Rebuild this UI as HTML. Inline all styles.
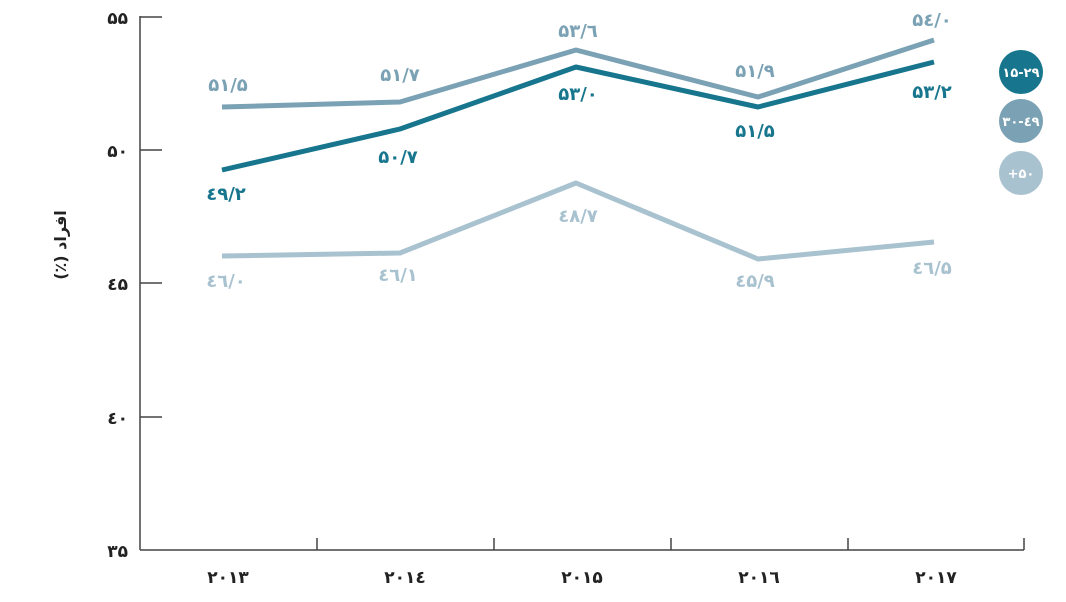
<!DOCTYPE html>
<html><head><meta charset="utf-8"><style>
html,body{margin:0;padding:0;background:#fff;}
svg text{font-family:"DejaVu Sans",sans-serif;font-weight:bold;}
</style></head><body>
<svg width="1066" height="597" viewBox="0 0 1066 597" xmlns="http://www.w3.org/2000/svg">
<g stroke="#444" stroke-width="1.5" fill="none">
<line x1="140" y1="16" x2="140" y2="550"/>
<line x1="140" y1="17" x2="162" y2="17"/>
<line x1="140" y1="150" x2="162" y2="150"/>
<line x1="140" y1="283" x2="162" y2="283"/>
<line x1="140" y1="417" x2="162" y2="417"/>
<line x1="140" y1="550" x2="1024" y2="550"/>
<line x1="317" y1="538" x2="317" y2="550"/>
<line x1="494" y1="538" x2="494" y2="550"/>
<line x1="671" y1="538" x2="671" y2="550"/>
<line x1="848" y1="538" x2="848" y2="550"/>
<line x1="1024" y1="538" x2="1024" y2="550"/>
</g>
<g font-size="17" fill="#222" text-anchor="end">
<text x="128" y="24">۵۵</text>
<text x="128" y="157">۵۰</text>
<text x="128" y="290">٤۵</text>
<text x="128" y="424">٤۰</text>
<text x="128" y="557">۳۵</text>
</g>
<g font-size="17" fill="#222" text-anchor="middle">
<text x="228" y="583">۲۰۱۳</text>
<text x="405" y="583">۲۰۱٤</text>
<text x="582" y="583">۲۰۱۵</text>
<text x="759" y="583">۲۰۱٦</text>
<text x="936" y="583">۲۰۱۷</text>
</g>
<text x="0" y="0" font-size="16" fill="#222" text-anchor="middle" transform="translate(66,245) rotate(-90)">(٪) افراد</text>
<g fill="none" stroke-width="5" stroke-linejoin="round">
<polyline stroke="#a9c2cf" points="222,256 400,253 576,183 758,259 934,242"/>
<polyline stroke="#7aa2b4" points="222,107 400,102 576,50 758,97 934,40"/>
<polyline stroke="#17768d" points="222,170 400,129 576,67 758,107 934,62"/>
</g>
<g font-size="18" text-anchor="middle">
<g fill="#7aa2b4">
<text x="228" y="91">۵۱/۵</text><text x="400" y="81">۵۱/۷</text><text x="578" y="37">۵۳/٦</text><text x="755" y="77">۵۱/۹</text><text x="932" y="26">۵٤/۰</text>
</g>
<g fill="#17768d">
<text x="226" y="200">٤۹/۲</text><text x="398" y="163">۵۰/۷</text><text x="578" y="100">۵۳/۰</text><text x="755" y="137">۵۱/۵</text><text x="932" y="98">۵۳/۲</text>
</g>
<g fill="#a9c2cf">
<text x="226" y="287">٤٦/۰</text><text x="398" y="281">٤٦/۱</text><text x="578" y="222">٤۸/۷</text><text x="755" y="287">٤۵/۹</text><text x="932" y="274">٤٦/۵</text>
</g>
</g>
<circle cx="1021" cy="72" r="22" fill="#17768d"/>
<circle cx="1021" cy="121" r="22" fill="#7aa2b4"/>
<circle cx="1021" cy="173" r="22" fill="#a9c2cf"/>
<g font-size="13" fill="#fff" text-anchor="middle">
<text x="1021" y="77">۱۵-۲۹</text>
<text x="1021" y="126">۳۰-٤۹</text>
<text x="1021" y="178">+۵۰</text>
</g>
</svg>
</body></html>
